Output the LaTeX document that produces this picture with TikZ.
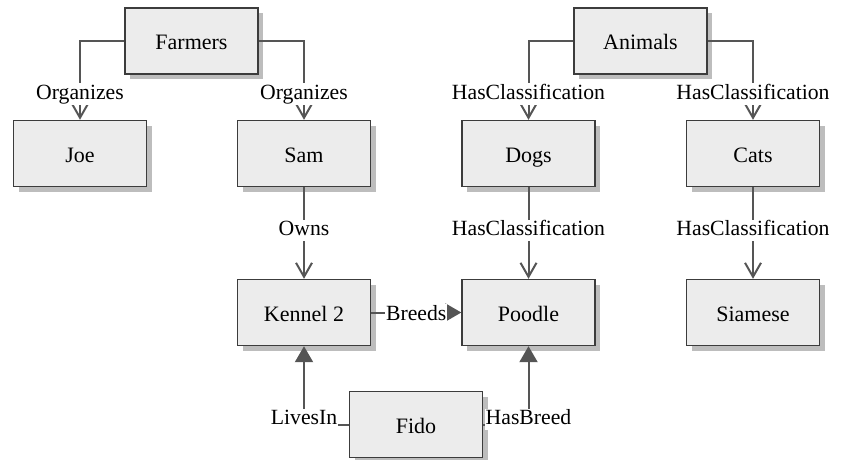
\documentclass[tikz,border=0pt]{standalone}
\usepackage{fontspec}
\setmainfont{Liberation Serif}
\usetikzlibrary{arrows.meta,shadows}
\definecolor{boxfill}{HTML}{ECECEC}
\definecolor{boxline}{HTML}{3C3C3C}
\definecolor{wire}{HTML}{555555}
\definecolor{shade}{HTML}{BDBDBD}
\tikzset{
  entity/.style={draw=boxline, line width=1.4pt, fill=boxfill,
    minimum width=133pt, minimum height=66pt, inner sep=0pt,
    text height=19pt, text depth=2pt,
    font=\fontsize{22}{26}\selectfont,
    drop shadow={shadow xshift=5pt, shadow yshift=-5pt, fill=shade, opacity=1}},
  rel/.style={draw=wire, line width=2pt},
  openhead/.style={-{Straight Barb[length=14pt,width=16pt]}},
  solidhead/.style={-{Triangle[length=16pt,width=18pt]}},
  lbl/.style={fill=white, inner sep=1pt, text=black,
    text height=15pt, text depth=4.5pt,
    font=\fontsize{21.7}{26}\selectfont}
}
\begin{document}
\begin{tikzpicture}[x=1pt,y=1pt]
  \useasboundingbox (0,0) rectangle (859,-459);

  % entities
  \node[entity] (farmers) at (191.5,-41)   {Farmers};
  \node[entity] (joe)     at (80,-153.5)   {Joe};
  \node[entity] (sam)     at (304,-153.5)  {Sam};
  \node[entity] (animals) at (640.5,-41)   {Animals};
  \node[entity] (dogs)    at (528.5,-153.5) {Dogs};
  \node[entity] (cats)    at (753,-153.5)  {Cats};
  \node[entity] (kennel)  at (304,-312.5)  {Kennel 2};
  \node[entity] (poodle)  at (528.5,-312.5) {Poodle};
  \node[entity] (siamese) at (753,-312.5)  {Siamese};
  \node[entity] (fido)    at (416,-424.5)  {Fido};

  % relations
  \draw[rel,openhead] (farmers.west) -| node[lbl,pos=0.835] (l1) {Organizes} (joe.north);
  \draw[rel,openhead] (farmers.east) -| node[lbl,pos=0.835] (l2) {Organizes} (sam.north);
  \draw[rel,openhead] (animals.west) -| node[lbl,pos=0.835] (l3) {HasClassification} (dogs.north);
  \draw[rel,openhead] (animals.east) -| node[lbl,pos=0.835] (l4) {HasClassification} (cats.north);
  \draw[rel,openhead] (sam.south) -- node[lbl,pos=0.47] (l5) {Owns} (kennel.north);
  \draw[rel,openhead] (dogs.south) -- node[lbl,pos=0.47] (l6) {HasClassification} (poodle.north);
  \draw[rel,openhead] (cats.south) -- node[lbl,pos=0.47] (l7) {HasClassification} (siamese.north);
  \draw[rel,solidhead] (kennel.east) -- node[lbl,yshift=-2.25pt] (l8) {Breeds} (poodle.west);
  \draw[rel,solidhead] (fido.west) -| node[lbl,yshift=5pt] (l9) {LivesIn} (kennel.south);
  \draw[rel,solidhead] (fido.east) -| node[lbl,yshift=5pt] (l10) {HasBreed} (poodle.south);
\end{tikzpicture}
\end{document}
